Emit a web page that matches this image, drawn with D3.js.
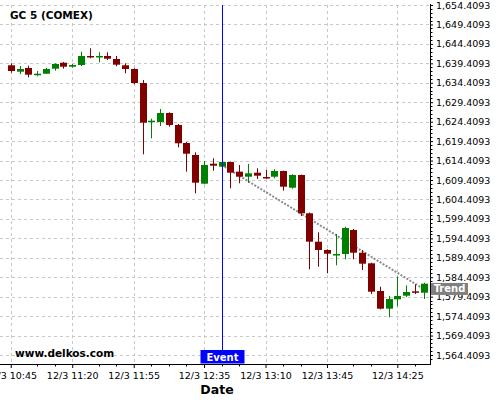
<!DOCTYPE html>
<html>
<head>
<meta charset="utf-8">
<script src="https://cdn.jsdelivr.net/npm/d3@7"></script>
<style>
  body { margin: 0; background: #fff; }
  svg { display: block; font-family: "DejaVu Sans", sans-serif; }
</style>
</head>
<body>
<div id="viz-container"></div>
<script>
// 5 minute candles, 12/3
let times = ["10:45","10:50","10:55","11:00","11:05","11:10","11:15","11:20","11:25","11:30",
  "11:35","11:40","11:45","11:50","11:55","12:00","12:05","12:10","12:15","12:20",
  "12:25","12:30","12:35","12:40","12:45","12:50","12:55","13:00","13:05","13:10",
  "13:15","13:20","13:25","13:30","13:35","13:40","13:45","13:50","13:55","14:00",
  "14:05","14:10","14:15","14:20","14:25","14:30","14:35","14:40"];
let opens = [1638.91,1637.26,1638.21,1636.41,1636.74,1638.03,1639.57,1638.54,1638.98,1641.30,
  1641.12,1641.30,1640.52,1638.91,1637.95,1634.35,1624.33,1624.33,1626.64,1623.55,
  1618.93,1615.84,1608.46,1613.60,1612.83,1614.04,1611.55,1610.26,1611.29,1610.18,
  1610.26,1611.73,1607.43,1610.70,1600.85,1593.55,1591.41,1590.13,1590.38,1596.55,
  1590.72,1587.99,1580.87,1576.32,1578.73,1579.66,1580.79,1580.43];
let highs = [1639.42,1638.72,1638.80,1637.44,1638.21,1639.42,1639.75,1639.24,1642.40,1643.28,
  1642.25,1642.25,1641.30,1639.42,1638.13,1635.12,1625.17,1627.67,1626.82,1623.81,
  1619.18,1616.53,1614.30,1614.99,1614.10,1614.12,1613.27,1613.53,1612.42,1611.98,
  1612.16,1611.80,1610.88,1610.80,1601.05,1595.96,1591.60,1595.53,1597.40,1596.80,
  1591.41,1588.15,1581.97,1579.58,1584.55,1582.33,1582.59,1583.00];
let lows = [1637.00,1636.67,1635.82,1636.08,1636.67,1637.52,1638.03,1638.29,1638.72,1640.70,
  1639.68,1640.27,1638.65,1636.85,1634.02,1616.02,1620.13,1623.30,1623.12,1617.82,
  1611.55,1605.99,1608.30,1611.80,1612.57,1607.28,1608.56,1608.72,1609.67,1609.75,
  1609.85,1606.66,1607.17,1600.15,1586.45,1587.12,1585.42,1587.48,1589.02,1589.02,
  1586.27,1580.10,1576.16,1574.11,1576.94,1579.33,1580.10,1578.81];
let closes = [1637.44,1637.95,1636.49,1636.74,1637.95,1639.24,1638.54,1638.98,1641.30,1641.04,
  1641.30,1640.60,1639.06,1637.95,1634.35,1624.15,1624.66,1626.64,1623.55,1618.85,
  1616.17,1608.72,1613.27,1613.09,1614.04,1611.29,1610.26,1611.13,1610.52,1609.93,
  1611.73,1607.69,1610.70,1600.85,1593.55,1591.41,1590.46,1590.38,1597.07,1590.72,
  1587.89,1580.69,1576.32,1578.81,1579.58,1580.61,1580.43,1582.75];

let xLabels = ["10:45","11:20","11:55","12:35","13:10","13:45","14:25"];
let xMinor = ["11:00","11:10","11:35","11:45","12:05","12:15","12:25","12:45","12:55",
  "13:20","13:30","14:00","14:10","14:35"];
let yTicks = [1564.4093,1569.4093,1574.4093,1579.4093,1584.4093,1589.4093,1594.4093,
  1599.4093,1604.4093,1609.4093,1614.4093,1619.4093,1624.4093,1629.4093,1634.4093,
  1639.4093,1644.4093,1649.4093,1654.4093];

let eventTime = "12:45";
let trendTimes = ["12:45","14:40"];
let trendPrices = [1613.3, 1581.4];

let w = 500;
let h = 400;
let plotRight = 430;
let plotTop = 5;
let plotBottom = 364;

function toDate(s){
  let p = s.split(":");
  return new Date(2012, 11, 3, +p[0], +p[1]);
}

let candles = times.map(function(t,i){
  return {t: toDate(t), o: opens[i], h: highs[i], l: lows[i], c: closes[i]};
});

let first = candles[0].t;
let last = candles[candles.length-1].t;
let xScale = d3.scaleTime()
  .domain([new Date(+first - 6.1*60000), new Date(+last + 3.6*60000)])
  .range([0, plotRight]);
let yScale = d3.scaleLinear().domain([1562.1, 1654.4093]).range([plotBottom, plotTop]);

let viz = d3.select("#viz-container")
  .append("svg")
  .attr("width", w)
  .attr("height", h);

viz.append("rect").attr("width", w).attr("height", h).attr("fill", "#fff");

// grid
let grid = viz.append("g").attr("class", "grid");
grid.selectAll(".hgrid").data(yTicks).enter()
  .append("line")
  .attr("x1", 0).attr("x2", plotRight)
  .attr("y1", d => Math.round(yScale(d)) + 0.5)
  .attr("y2", d => Math.round(yScale(d)) + 0.5)
  .attr("stroke", "#c8c8c8")
  .attr("stroke-dasharray", "3,3");
grid.selectAll(".vgrid").data(xLabels).enter()
  .append("line")
  .attr("x1", d => Math.round(xScale(toDate(d))) + 0.5)
  .attr("x2", d => Math.round(xScale(toDate(d))) + 0.5)
  .attr("y1", plotTop).attr("y2", plotBottom)
  .attr("stroke", "#c8c8c8")
  .attr("stroke-dasharray", "3,3");

// title + watermark
viz.append("text")
  .attr("x", 10).attr("y", 19)
  .attr("font-size", "10.5px").attr("font-weight", "bold")
  .attr("fill", "#000")
  .text("GC 5 (COMEX)");
viz.append("text")
  .attr("x", 15).attr("y", 357)
  .attr("font-size", "10.5px").attr("font-weight", "bold")
  .attr("fill", "#000")
  .text("www.delkos.com");

// trend line
let trendData = trendTimes.map((t,i) => ({t: toDate(t), p: trendPrices[i]}));
viz.append("path")
  .datum(trendData)
  .attr("d", d3.line().x(d => xScale(d.t)).y(d => yScale(d.p)))
  .attr("stroke", "#8c8c8c")
  .attr("stroke-width", 2)
  .attr("stroke-dasharray", "2,1.5")
  .attr("fill", "none");

// candles
let bodyW = 7;
let cg = viz.selectAll(".candle").data(candles).enter()
  .append("g")
  .attr("class", "candle")
  .attr("transform", d => "translate(" + Math.round(xScale(d.t)) + ",0)");
cg.append("line")
  .attr("x1", 0.5).attr("x2", 0.5)
  .attr("y1", d => yScale(d.h))
  .attr("y2", d => yScale(d.l))
  .attr("stroke", d => d.c >= d.o ? "#008000" : "#800000")
  .attr("stroke-width", 1);
cg.append("rect")
  .attr("x", -bodyW/2 + 0.5)
  .attr("width", bodyW)
  .attr("y", d => yScale(Math.max(d.o, d.c)))
  .attr("height", d => Math.max(1.5, Math.abs(yScale(d.o) - yScale(d.c))))
  .attr("fill", d => d.c >= d.o ? "#008000" : "#800000");

// event line
let ex = Math.round(xScale(toDate(eventTime))) + 0.5;
viz.append("line")
  .attr("x1", ex).attr("x2", ex)
  .attr("y1", plotTop).attr("y2", 350)
  .attr("stroke", "#0000ff").attr("stroke-width", 1);

// axes
let yAxis = d3.axisRight(yScale)
  .tickValues(yTicks)
  .tickSize(3)
  .tickPadding(3)
  .tickFormat(d3.format(",.4f"));
let yAxisGroup = viz.append("g")
  .attr("class", "yaxisgroup")
  .attr("transform", "translate(" + plotRight + ",0)")
  .call(yAxis);
yAxisGroup.select(".domain").attr("d", "M0.5," + (plotTop - 1) + "V" + plotBottom);
yAxisGroup.selectAll("text").attr("font-size", "9.5px").attr("font-family", "DejaVu Sans").attr("fill", "#000");

let yMinor = d3.range(0, 92).map(i => 1563.4093 + i);
yAxisGroup.selectAll(".minor").data(yMinor.filter(v => yTicks.indexOf(+v.toFixed(4)) < 0)).enter()
  .append("line")
  .attr("x1", 0.5).attr("x2", 2.5)
  .attr("y1", d => Math.round(yScale(d)) + 0.5)
  .attr("y2", d => Math.round(yScale(d)) + 0.5)
  .attr("stroke", "#000");

let xAxis = d3.axisBottom(xScale)
  .tickValues(xLabels.map(toDate))
  .tickSize(4)
  .tickPadding(4)
  .tickFormat(d3.timeFormat("%-m/%-d %H:%M"));
let xAxisGroup = viz.append("g")
  .attr("class", "xaxisgroup")
  .attr("transform", "translate(0," + plotBottom + ")")
  .call(xAxis);
xAxisGroup.select(".domain").attr("d", "M0,0.5H" + (plotRight + 1));
xAxisGroup.selectAll("text").attr("font-size", "9.5px").attr("font-family", "DejaVu Sans").attr("fill", "#000");
xAxisGroup.selectAll(".minor").data(xMinor).enter()
  .append("line")
  .attr("x1", d => Math.round(xScale(toDate(d))) + 0.5)
  .attr("x2", d => Math.round(xScale(toDate(d))) + 0.5)
  .attr("y1", 0).attr("y2", 2.5)
  .attr("stroke", "#000");

viz.append("text")
  .attr("x", 217).attr("y", 394)
  .attr("text-anchor", "middle")
  .attr("font-size", "12.5px").attr("font-weight", "bold")
  .attr("fill", "#000")
  .text("Date");

// labels for event and trend
viz.append("rect")
  .attr("x", ex - 22).attr("y", 350)
  .attr("width", 44).attr("height", 13.5)
  .attr("fill", "#0000ff");
viz.append("text")
  .attr("x", ex).attr("y", 360.5)
  .attr("text-anchor", "middle")
  .attr("font-size", "10px").attr("font-weight", "bold")
  .attr("fill", "#fff")
  .text("Event");

let ty = yScale(trendPrices[1]);
viz.append("rect")
  .attr("x", plotRight + 1).attr("y", ty - 6)
  .attr("width", 37).attr("height", 12)
  .attr("fill", "#808080");
viz.append("text")
  .attr("x", plotRight + 19.5).attr("y", ty + 3.5)
  .attr("text-anchor", "middle")
  .attr("font-size", "10px").attr("font-weight", "bold")
  .attr("fill", "#fff")
  .text("Trend");
</script>
</body>
</html>
